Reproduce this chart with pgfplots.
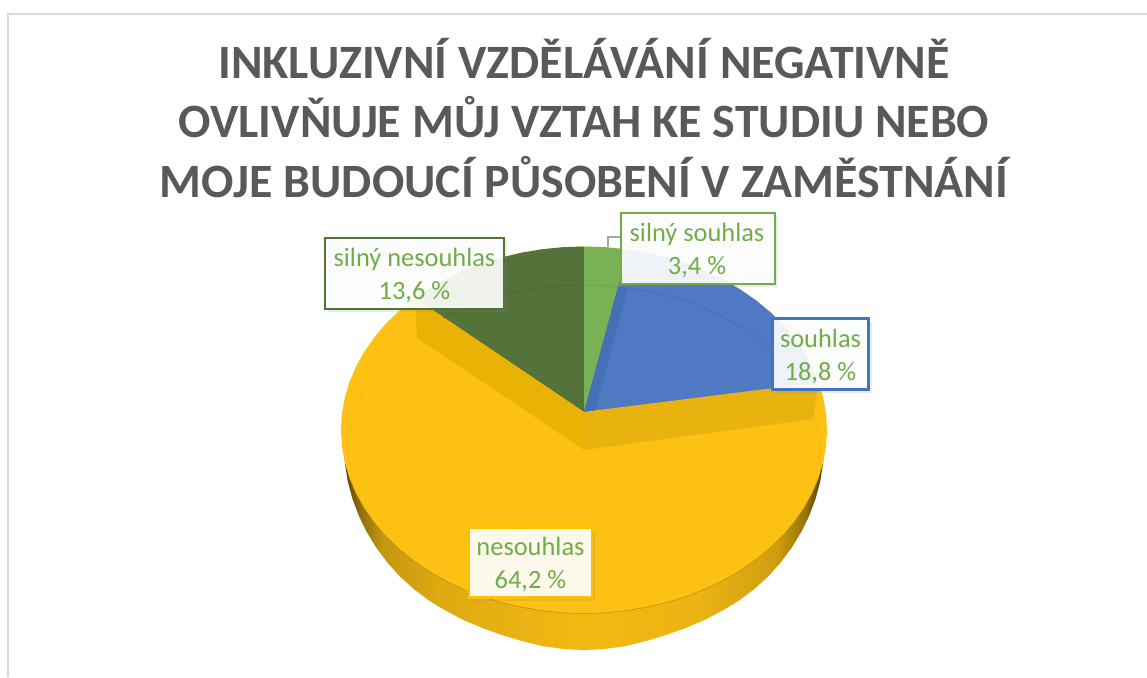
\documentclass[border=0pt]{standalone}
\usepackage{fontspec}
\setmainfont{Carlito}
\usepackage{pgfplots}
\pgfplotsset{compat=1.18}
\usetikzlibrary{shadows}
\definecolor{titlec}{HTML}{595959}
\definecolor{ylw}{HTML}{FDC114}
\definecolor{wallL}{HTML}{E9B305}
\definecolor{wallR}{HTML}{E9B30F}
\definecolor{dgreen}{HTML}{54733B}
\definecolor{lgreen}{HTML}{7AB154}
\definecolor{blu}{HTML}{4F7AC3}
\definecolor{dblu}{HTML}{4370B6}
\definecolor{lbltxt}{HTML}{70AD47}
\definecolor{bdGreen}{HTML}{70AD47}
\definecolor{bdDark}{HTML}{4F7434}
\definecolor{bdBlue}{HTML}{4472C4}
\definecolor{bdYellow}{HTML}{FFC000}
\pgfdeclarehorizontalshading{sideshade}{100bp}{
 color(0bp)=(black!65!ylw);
 color(25bp)=(black!65!ylw);
 color(26.5bp)=(black!45!ylw);
 color(29bp)=(black!22!ylw);
 color(35bp)=(black!12!ylw);
 color(50bp)=(black!4!ylw);
 color(62bp)=(black!7!ylw);
 color(70bp)=(black!18!ylw);
 color(73bp)=(black!40!ylw);
 color(75bp)=(black!70!ylw);
 color(100bp)=(black!70!ylw)}
\tikzset{lab/.style={draw=#1,line width=2.6pt,fill=white,fill opacity=.91,draw opacity=1,inner sep=0pt,
  drop shadow={opacity=.16,shadow xshift=3pt,shadow yshift=-3pt}},
  labt/.style={text=lbltxt,align=center,inner sep=0pt,font=\fontsize{26.4}{33}\selectfont}}
\begin{document}
\begin{tikzpicture}
\useasboundingbox (0,0) rectangle (1147pt,677pt);
\begin{axis}[scale only axis,width=1147pt,height=677pt,xmin=0,xmax=1147,ymin=0,ymax=677,y dir=reverse,hide axis]
% frame
\addplot[draw=black!15,line width=1.6pt] coordinates {(1147,14)(8,14)(8,677)};
% side of the pie
\addplot[draw=none,shade,shading=sideshade] coordinates {(344,445)(344.9,462.9)(347.6,480.6)(352.2,498.1)(358.5,515.1)(366.5,531.6)(376.2,547.5)(387.4,562.6)(400.2,576.8)(414.3,589.5)(429.7,601)(446.3,611)(464,620.3)(482.6,628)(501.9,635)(521.9,641)(542.3,646)(563.1,649)(584,650)(604.9,649)(625.7,646)(646.1,641)(666.1,635)(685.4,628)(704,620.3)(721.7,611)(738.3,601)(753.8,589.5)(767.8,576.8)(780.6,562.6)(791.8,547.5)(801.5,531.6)(809.5,515.1)(815.8,498.1)(820.4,480.6)(823.1,462.9)(824,445)};
% nesouhlas, 64,2 %: whole top face, the other slices lie over it
\addplot[draw=none,fill=ylw] coordinates {(827,430)(826.1,414)(823.3,398.1)(818.7,382.5)(812.3,367.2)(804.2,352.5)(794.4,338.2)(783.1,324.7)(770.1,312)(755.8,300.2)(740.2,289.4)(723.4,279.7)(705.5,271.1)(686.7,263.7)(667.1,257.6)(646.9,252.8)(626.2,249.3)(605.2,247.2)(584,246.5)(562.8,247.2)(541.8,249.3)(521.1,252.8)(500.9,257.6)(481.3,263.7)(462.5,271.1)(444.6,279.7)(427.8,289.4)(412.2,300.2)(397.9,312)(384.9,324.7)(373.6,338.2)(363.8,352.5)(355.7,367.2)(349.3,382.5)(344.7,398.1)(341.9,414)(341,430)(341.9,446)(344.7,461.9)(349.3,477.5)(355.7,492.8)(363.8,507.5)(373.6,521.8)(384.9,535.3)(397.9,548)(412.2,559.8)(427.8,570.6)(444.6,580.3)(462.5,588.9)(481.3,596.3)(500.9,602.4)(521.1,607.2)(541.8,610.7)(562.8,612.8)(584,613.5)(605.2,612.8)(626.2,610.7)(646.9,607.2)(667.1,602.4)(686.7,596.3)(705.5,588.9)(723.4,580.3)(740.2,570.6)(755.8,559.8)(770.1,548)(783.1,535.3)(794.4,521.8)(804.2,507.5)(812.3,492.8)(818.7,477.5)(823.3,461.9)(826.1,446)};
% rim line of the top face
\addplot[draw=black!25!ylw,line width=.6pt] coordinates {(349.3,477.5)(355.7,492.8)(363.8,507.5)(373.6,521.8)(384.9,535.3)(397.9,548)(412.2,559.8)(427.8,570.6)(444.6,580.3)(462.5,588.9)(481.3,596.3)(500.9,602.4)(521.1,607.2)(541.8,610.7)(562.8,612.8)(584,613.5)(605.2,612.8)(626.2,610.7)(646.9,607.2)(667.1,602.4)(686.7,596.3)(705.5,588.9)(723.4,580.3)(740.2,570.6)(755.8,559.8)(770.1,548)(783.1,535.3)(794.4,521.8)(804.2,507.5)(812.3,492.8)(818.7,477.5)};
% silny nesouhlas
\addplot[draw=none,fill=dgreen] coordinates {(584,412)(584,246.5)(562.8,247.2)(541.8,249.3)(521.1,252.8)(500.9,257.6)(481.3,263.7)(462.5,271.1)(444.6,279.7)(427.8,289.4)(415,298)};
% silny souhlas
\addplot[draw=none,fill=lgreen] coordinates {(584,412)(584,246.5)(605.2,247.2)(626.2,249.3)(628,249.6)};
% souhlas
\addplot[draw=none,fill=blu] coordinates {(584,412)(628,249.6)(646.9,252.8)(667.1,257.6)(686.7,263.7)(705.5,271.1)(723.4,279.7)(740.2,289.4)(755.8,300.2)(770.1,312)(783.1,324.7)(794.4,338.2)(804.2,352.5)(812.3,367.2)(818.7,382.5)};
\addplot[draw=none,fill=dblu] coordinates {(584,412)(595,410.6)(628,288)(618,287)};
% yellow inner walls
\addplot[draw=none,fill=wallL] coordinates {(584,412)(584,450)(417,338)(415,298)};
\addplot[draw=none,fill=wallR] coordinates {(584,412)(584,450)(813,419)(818.7,382.5)};
% bevel arcs
\addplot[draw=black!12!dgreen,line width=.6pt] coordinates {(584,285)(563.4,285.6)(543,287.5)(522.9,290.6)(503.3,295)(484.3,300.5)(466,307.1)(448.6,314.8)(443,318)};
\addplot[draw=black!10!lgreen,line width=.6pt] coordinates {(584,285)(604.6,285.6)(618,287)};
\addplot[draw=black!12!blu,line width=.6pt] coordinates {(628,288)(645.1,290.6)(664.7,295)(683.7,300.5)(702,307.1)(719.4,314.8)(735.7,323.6)(750.9,333.3)(764.8,343.9)(777.3,355.4)};
\addplot[draw=black!5!ylw,line width=.6pt] coordinates {(417.1,336)(403.2,343.9)(390.7,355.4)(379.6,367.5)(370.1,380.3)(362.2,393.6)(356,407.3)(351.6,421.3)(348.9,435.6)(348,450)(348.9,464.4)};
\addplot[draw=black!5!ylw,line width=.6pt] coordinates {(813,419)(816.4,421.3)(819.1,435.6)(820,450)(819.1,464.4)};
% leader line
\addplot[draw=black!35,line width=1.2pt] coordinates {(608,247)(608,237)(620,237)};
% title
\node[anchor=base,text=titlec,font=\bfseries\fontsize{47.9}{48}\selectfont] at (axis cs:584,78) {INKLUZIVNÍ VZDĚLÁVÁNÍ NEGATIVNĚ};
\node[anchor=base,text=titlec,font=\bfseries\fontsize{47.9}{48}\selectfont] at (axis cs:584,137) {OVLIVŇUJE MŮJ VZTAH KE STUDIU NEBO};
\node[anchor=base,text=titlec,font=\bfseries\fontsize{47.9}{48}\selectfont] at (axis cs:584,197) {MOJE BUDOUCÍ PŮSOBENÍ V ZAMĚSTNÁNÍ};
% labels
\node[lab=bdDark,minimum width=179pt,minimum height=71pt] at (axis cs:414.5,273.5) {};
\node[lab=bdGreen,minimum width=154pt,minimum height=71pt] at (axis cs:698,248.5) {};
\node[lab=bdBlue,minimum width=96pt,minimum height=71pt] at (axis cs:820.5,354) {};
\node[lab=bdYellow,minimum width=123pt,minimum height=70pt] at (axis cs:530.5,562.5) {};
\node[labt] at (axis cs:414.5,275.5) {silný nesouhlas\\13,6 \%};
\node[labt] at (axis cs:697,250.5) {silný souhlas\\3,4 \%};
\node[labt] at (axis cs:820.5,357) {souhlas\\18,8 \%};
\node[labt] at (axis cs:530.5,565) {nesouhlas\\64,2 \%};
\end{axis}
\end{tikzpicture}
\end{document}
